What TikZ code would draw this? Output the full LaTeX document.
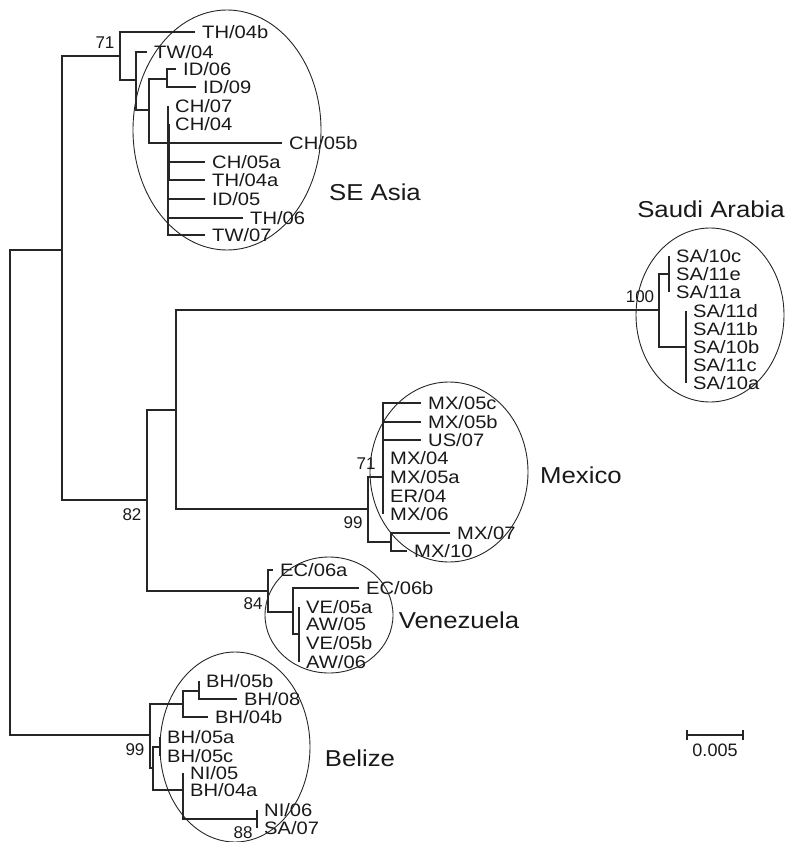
\documentclass[tikz,border=0pt]{standalone}
\usepackage{fontspec}
\setmainfont{Liberation Sans}
\newfontfamily\lab{Liberation Sans}[FakeStretch=1.12]
\begin{document}
\begin{tikzpicture}[x=1pt,y=-1pt,
  br/.style={line width=1.1pt, draw=black!85},
  leafl/.style={anchor=west, inner xsep=7pt, inner ysep=0pt, text height=13pt, text depth=0pt, font=\lab\fontsize{18}{18}\selectfont, text=black!90},
  bootlab/.style={inner sep=0pt, text depth=0pt, font=\fontsize{17}{17}\selectfont, text=black!90},
  grp/.style={inner sep=0pt, text depth=0pt, font=\lab\fontsize{23}{23}\selectfont, text=black!90},
  clus/.style={line width=0.9pt, draw=black!85}]
\useasboundingbox (0,0) rectangle (787,842);
% internal nodes
\coordinate (r) at (10,500);
\coordinate (nA) at (62,250);
\coordinate (n71) at (120,56);
\coordinate (nB) at (136,80);
\coordinate (nC) at (149,110);
\coordinate (nID) at (167,79);
\coordinate (nCH) at (168,143);
\coordinate (n82) at (147,500);
\coordinate (nSM) at (176,410);
\coordinate (nSA) at (659,310);
\coordinate (nSAu) at (669,274);
\coordinate (nSAl) at (686,347);
\coordinate (nM) at (368,509);
\coordinate (nM71) at (383,477);
\coordinate (nM2) at (391,542);
\coordinate (nV) at (268,591);
\coordinate (nV2) at (293,612);
\coordinate (nV3) at (299,634);
\coordinate (nBel) at (150,735);
\coordinate (nBa) at (183,704);
\coordinate (nBa1) at (199,691);
\coordinate (nBb) at (153,768);
\coordinate (nBc) at (160,747);
\coordinate (nBd) at (183,790);
\coordinate (nBe) at (257,819);
% leaves
\foreach \n/\p/\t in {TH04b/{195,32}/TH\slash 04b, TW04/{147,52}/TW\slash 04, ID06/{176,69}/ID\slash 06, ID09/{196,87}/ID\slash 09,
  CH07/{168,106}/CH\slash 07, CH04/{168,124}/CH\slash 04, CH05b/{282,143}/CH\slash 05b, CH05a/{205,162}/CH\slash 05a,
  TH04a/{205,180}/TH\slash 04a, ID05/{205,199}/ID\slash 05, TH06/{243,218}/TH\slash 06, TW07/{205,235}/TW\slash 07,
  SA10c/{669,256}/SA\slash 10c, SA11e/{669,274}/SA\slash 11e, SA11a/{669,292}/SA\slash 11a,
  SA11d/{686,311}/SA\slash 11d, SA11b/{686,329}/SA\slash 11b, SA10b/{686,347}/SA\slash 10b, SA11c/{686,365}/SA\slash 11c, SA10a/{686,383}/SA\slash 10a,
  MX05c/{421,403}/MX\slash 05c, MX05b/{421,422}/MX\slash 05b, US07/{421,440}/US\slash 07, MX04/{383,458}/MX\slash 04,
  MX05a/{383,477}/MX\slash 05a, ER04/{383,496}/ER\slash 04, MX06/{383,514}/MX\slash 06, MX07/{450,533}/MX\slash 07, MX10/{407,551}/MX\slash 10,
  EC06a/{273,570}/EC\slash 06a, EC06b/{359,588}/EC\slash 06b, VE05a/{299,607}/VE\slash 05a, AW05/{299,624}/AW\slash 05,
  VE05b/{299,643}/VE\slash 05b, AW06/{299,662}/AW\slash 06,
  BH05b/{199,681}/BH\slash 05b, BH08/{237,699}/BH\slash 08, BH04b/{208,717}/BH\slash 04b, BH05a/{160,737}/BH\slash 05a,
  BH05c/{160,756}/BH\slash 05c, NI05/{183,773}/NI\slash 05, BH04a/{183,790}/BH\slash 04a, NI06/{257,810}/NI\slash 06, SA07/{257,828}/SA\slash 07}
  \node[leafl] (\n) at (\p) {\t};
% branches
\draw[br] (r) |- (nA);
\draw[br] (r) |- (nBel);
\draw[br] (nA) |- (n71);
\draw[br] (nA) |- (n82);
\draw[br] (n71) |- (TH04b.west);
\draw[br] (n71) |- (nB);
\draw[br] (nB) |- (TW04.west);
\draw[br] (nB) |- (nC);
\draw[br] (nC) |- (nID);
\draw[br] (nC) |- (nCH);
\foreach \l in {ID06,ID09} \draw[br] (nID) |- (\l.west);
\foreach \l in {CH07,CH04,CH05b,CH05a,TH04a,ID05,TH06,TW07} \draw[br] (nCH) |- (\l.west);
\draw[br] ([xshift=1.2pt]CH04.west) -- ([xshift=1.2pt]CH04.west |- TH04a.west);
\draw[br] (n82) |- (nSM);
\draw[br] (n82) |- (nV);
\draw[br] (nSM) |- (nSA);
\draw[br] (nSM) |- (nM);
\draw[br] (nSA) |- (nSAu);
\draw[br] (nSA) |- (nSAl);
\foreach \l in {SA10c,SA11e,SA11a} \draw[br] (nSAu) |- (\l.west);
\foreach \l in {SA11d,SA11b,SA10b,SA11c,SA10a} \draw[br] (nSAl) |- (\l.west);
\draw[br] (nM) |- (nM71);
\draw[br] (nM) |- (nM2);
\foreach \l in {MX05c,MX05b,US07,MX04,MX05a,ER04,MX06} \draw[br] (nM71) |- (\l.west);
\foreach \l in {MX07,MX10} \draw[br] (nM2) |- (\l.west);
\draw[br] (nV) |- (EC06a.west);
\draw[br] (nV) |- (nV2);
\draw[br] (nV2) |- (EC06b.west);
\draw[br] (nV2) |- (nV3);
\foreach \l in {VE05a,AW05,VE05b,AW06} \draw[br] (nV3) |- (\l.west);
\draw[br] (nBel) |- (nBa);
\draw[br] (nBel) |- (nBb);
\draw[br] (nBa) |- (nBa1);
\draw[br] (nBa) |- (BH04b.west);
\foreach \l in {BH05b,BH08} \draw[br] (nBa1) |- (\l.west);
\draw[br] (nBb) |- (nBc);
\draw[br] (nBb) |- (nBd);
\foreach \l in {BH05a,BH05c} \draw[br] (nBc) |- (\l.west);
\draw[br] (nBd) |- (NI05.west);
\draw[br] (nBd) |- (BH04a.west);
\draw[br] (nBd) |- (nBe);
\foreach \l in {NI06,SA07} \draw[br] (nBe) |- (\l.west);
% bootstrap values
\node[bootlab] (b71) at (105,43) {71};
\node[bootlab] (b82) at (132,515) {82};
\node[bootlab] (b100) at (640,297) {100};
\node[bootlab] (b71m) at (366,464) {71};
\node[bootlab] (b99m) at (353,523) {99};
\node[bootlab] (b84) at (253,604) {84};
\node[bootlab] (b99b) at (135,750) {99};
\node[bootlab] (b88) at (243,833) {88};
% clusters
\draw[clus] (227,130) ellipse [x radius=94, y radius=120];
\draw[clus] (710,315) ellipse [x radius=74, y radius=87];
\draw[clus] (449,472) ellipse [x radius=79, y radius=90];
\draw[clus] (329,615) ellipse [x radius=64, y radius=58];
\draw[clus] (235,747) ellipse [x radius=75, y radius=95];
\node[grp] (gSE) at (375,192) {SE Asia};
\node[grp] (gSA) at (711,209) {Saudi Arabia};
\node[grp] (gMX) at (581,475) {Mexico};
\node[grp] (gVE) at (459,620) {Venezuela};
\node[grp] (gBE) at (360,758) {Belize};
% scale bar
\coordinate (sbL) at (687,735);
\coordinate (sbR) at (743,735);
\draw[br] (sbL) -- (sbR);
\draw[br] ([yshift=-5pt]sbL) -- ([yshift=5pt]sbL);
\draw[br] ([yshift=-5pt]sbR) -- ([yshift=5pt]sbR);
\node[bootlab, font=\fontsize{18}{18}\selectfont] (sbT) at (715,750) {0.005};
\end{tikzpicture}
\end{document}
